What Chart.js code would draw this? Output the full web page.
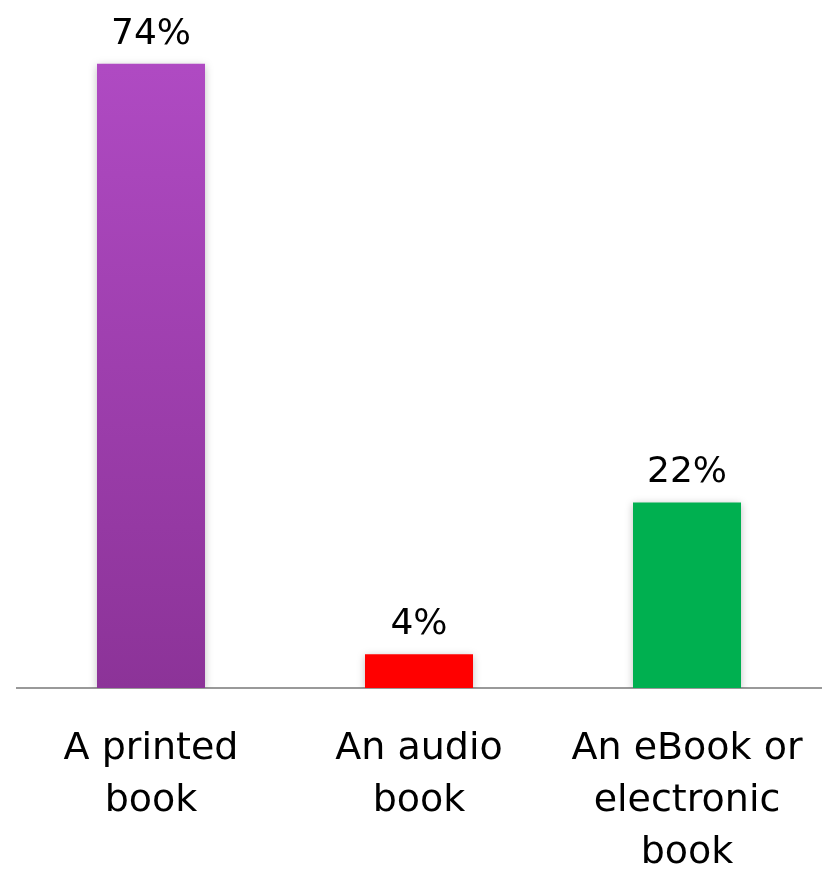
<!DOCTYPE html>
<html>
<head>
<meta charset="utf-8">
<script src="https://cdn.jsdelivr.net/npm/chart.js@4/dist/chart.umd.min.js"></script>
<style>
  html, body { margin: 0; padding: 0; background: #fff; }
  #wrap { width: 825px; height: 869px; }
</style>
</head>
<body>
<div id="wrap"><canvas id="bookChart"></canvas></div>
<script>
// data
const categories = [['A printed', 'book'], ['An audio', 'book'], ['An eBook or', 'electronic', 'book']];
const shares = [74, 4, 22];
const valueLabels = ['74%', '4%', '22%'];

const fontFamily = "'DejaVu Sans', 'Noto Sans', sans-serif";

function barColor(ctx) {
    const chart = ctx.chart;
    const area = chart.chartArea;
    if (ctx.dataIndex === 1) return '#ff0000';
    if (ctx.dataIndex === 2) return '#00b050';
    if (!area) return '#9c3eb0';
    const g = chart.ctx.createLinearGradient(0, area.top, 0, area.bottom);
    g.addColorStop(0, '#b24cc6');
    g.addColorStop(1, '#8c3398');
    return g;
}

// draw the % above each bar
const valueLabelPlugin = {
    id: 'valueLabels',
    afterDatasetsDraw(chart) {
        const ctx = chart.ctx;
        const meta = chart.getDatasetMeta(0);
        ctx.save();
        ctx.font = '36px ' + fontFamily;
        ctx.fillStyle = '#000';
        ctx.textAlign = 'center';
        ctx.textBaseline = 'alphabetic';
        meta.data.forEach((bar, i) => {
            ctx.fillText(valueLabels[i], bar.x, bar.y - 20);
        });
        ctx.restore();
    }
};

// soft shadow behind bars
const shadowPlugin = {
    id: 'barShadow',
    beforeDatasetDraw(chart) {
        const ctx = chart.ctx;
        ctx.save();
        ctx.shadowColor = 'rgba(0,0,0,0.25)';
        ctx.shadowBlur = 8;
        ctx.shadowOffsetX = 0;
        ctx.shadowOffsetY = 2;
    },
    afterDatasetDraw(chart) {
        chart.ctx.restore();
    }
};

new Chart(document.getElementById('bookChart').getContext('2d'), {
    type: 'bar',
    data: {
        labels: categories,
        datasets: [{
            data: shares,
            backgroundColor: barColor,
            borderWidth: 0,
            categoryPercentage: 1,
            barPercentage: 0.403
        }]
    },
    options: {
        responsive: true,
        maintainAspectRatio: false,
        animation: false,
        layout: { padding: { top: 13, left: 17, right: 4, bottom: 0 } },
        plugins: {
            legend: { display: false },
            tooltip: { enabled: false }
        },
        scales: {
            x: {
                grid: { display: false },
                border: { color: '#999999', width: 2 },
                afterFit(scale) {
                    scale.height = 181;
                    scale.paddingLeft = 0;
                    scale.paddingRight = 0;
                },
                ticks: {
                    color: '#000',
                    font: { family: fontFamily, size: 38, lineHeight: 1.37 },
                    padding: 27,
                    maxRotation: 0,
                    autoSkip: false
                }
            },
            y: {
                display: false,
                min: 0,
                max: 80
            }
        }
    },
    plugins: [shadowPlugin, valueLabelPlugin]
});
</script>
</body>
</html>
